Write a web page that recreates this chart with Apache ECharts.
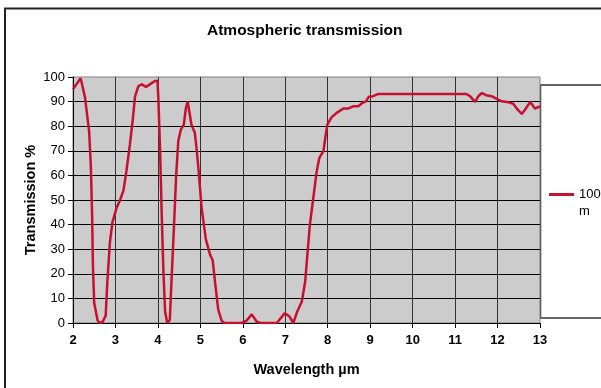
<!DOCTYPE html>
<html><head><meta charset="utf-8">
<script src="https://cdn.jsdelivr.net/npm/echarts@6/dist/echarts.min.js"></script>
<style>html,body{margin:0;padding:0;background:#fff}#c{width:601px;height:388px}</style>
</head><body><div id="c"></div>
<script>
const wavelength = [2.0, 2.1, 2.18, 2.28, 2.38, 2.42, 2.45, 2.47, 2.5, 2.58, 2.63, 2.7, 2.77, 2.81, 2.87, 2.93, 3.03, 3.11, 3.19, 3.26, 3.34, 3.41, 3.46, 3.54, 3.62, 3.72, 3.81, 3.92, 3.99, 4.01, 4.05, 4.09, 4.13, 4.17, 4.22, 4.28, 4.32, 4.38, 4.43, 4.48, 4.54, 4.61, 4.66, 4.70, 4.74, 4.79, 4.87, 4.91, 4.96, 5.03, 5.13, 5.23, 5.29, 5.35, 5.42, 5.5, 5.56, 5.97, 6.09, 6.21, 6.33, 6.42, 6.80, 6.99, 7.10, 7.19, 7.28, 7.39, 7.47, 7.52, 7.58, 7.66, 7.74, 7.80, 7.90, 7.94, 7.99, 8.09, 8.21, 8.37, 8.49, 8.60, 8.72, 8.82, 8.90, 8.97, 9.07, 9.19, 11.27, 11.35, 11.47, 11.55, 11.63, 11.73, 11.86, 11.98, 12.10, 12.26, 12.37, 12.47, 12.57, 12.65, 12.77, 12.88, 13.0];
const transmission = [95, 97.5, 99.5, 92, 78, 64, 44, 23, 8, 1, 0, 0.5, 3, 17, 33, 41, 47, 50, 54, 62, 72.5, 83, 92, 96.3, 97, 96, 97, 98.3, 98.5, 91.5, 71, 44, 21, 4.6, 0, 1.2, 17, 40, 60, 74, 78.6, 80.6, 87.5, 90, 86, 80.6, 77.3, 71, 61.6, 46.7, 34, 27.7, 25.5, 16, 5.5, 1, 0, 0, 1, 3.5, 0.5, 0, 0, 4, 2.6, 0, 4.6, 8.7, 17, 27.7, 40, 50.8, 61.6, 67, 70, 75, 80.6, 83.6, 85.4, 87.2, 87.2, 88.1, 88.1, 89.5, 90.1, 92, 92.2, 93.1, 93.1, 92.2, 89.9, 92.2, 93.5, 92.6, 92.2, 91.1, 90.1, 89.7, 89.1, 86.8, 85, 86.8, 89.9, 87.2, 88.1];
const seriesName = '100 m';
const chartTitle = 'Atmospheric transmission';
const xTitle = 'Wavelength µm';
const yTitle = 'Transmission %';

const font = '"Liberation Sans", Arial, sans-serif';
const chart = echarts.init(document.getElementById('c'));
chart.setOption({
  animation: false,
  textStyle: { fontFamily: font },
  title: {
    text: chartTitle, left: 207, top: 23, padding: 0,
    textStyle: { fontFamily: font, fontSize: 15.5, fontWeight: 'bold', color: '#000' }
  },
  graphic: [
    { type: 'polyline', z: -10, shape: { points: [[5, 400], [5, 8.5], [610, 8.5]] },
      style: { stroke: '#222', lineWidth: 2, fill: null } },
    { type: 'rect', z: -5, shape: { x: 540.5, y: 85, width: 100, height: 233 },
      style: { stroke: '#333', lineWidth: 1.5, fill: '#fff' } }
  ],
  legend: {
    left: 549, top: 169, padding: 0, icon: 'rect', itemWidth: 25, itemHeight: 3,
    formatter: (n) => '\n' + n.replace(' ', '\n'),
    textStyle: { fontFamily: font, fontSize: 13, color: '#000', lineHeight: 17 }
  },
  grid: {
    left: 73, top: 77, width: 467, height: 246, show: true,
    backgroundColor: '#CCCCCC', borderColor: '#808080', borderWidth: 1
  },
  xAxis: {
    type: 'value', min: 2, max: 13, interval: 1,
    name: xTitle, nameLocation: 'middle', nameGap: 39,
    nameTextStyle: { fontFamily: font, fontSize: 14.5, fontWeight: 'bold', color: '#000' },
    axisLine: { show: true, onZero: false, lineStyle: { color: '#000', width: 1 } },
    axisTick: { show: true, length: 5, lineStyle: { color: '#000' } },
    axisLabel: { margin: 11, fontFamily: font, fontSize: 13, fontWeight: 'bold', color: '#000' },
    splitLine: { show: true, showMaxLine: false, showMinLine: false, lineStyle: { color: '#333', width: 1 } }
  },
  yAxis: {
    type: 'value', min: 0, max: 100, interval: 10,
    name: yTitle, nameLocation: 'middle', nameGap: 35, nameMoveOverlap: false,
    nameTextStyle: { fontFamily: font, fontSize: 14.5, fontWeight: 'bold', color: '#000' },
    axisLine: { show: true, lineStyle: { color: '#000', width: 1 } },
    axisTick: { show: true, length: 5, lineStyle: { color: '#000' } },
    axisLabel: { margin: 8, fontFamily: font, fontSize: 13, color: '#000' },
    splitLine: { show: true, showMaxLine: false, showMinLine: false, lineStyle: { color: '#000', width: 1 } }
  },
  series: [{
    name: seriesName, type: 'line', showSymbol: false, symbol: 'none',
    data: wavelength.map((w, i) => [w, transmission[i]]),
    lineStyle: { color: '#C8102E', width: 2.5 }, itemStyle: { color: '#C8102E' },
    clip: true
  }]
});
</script></body></html>
